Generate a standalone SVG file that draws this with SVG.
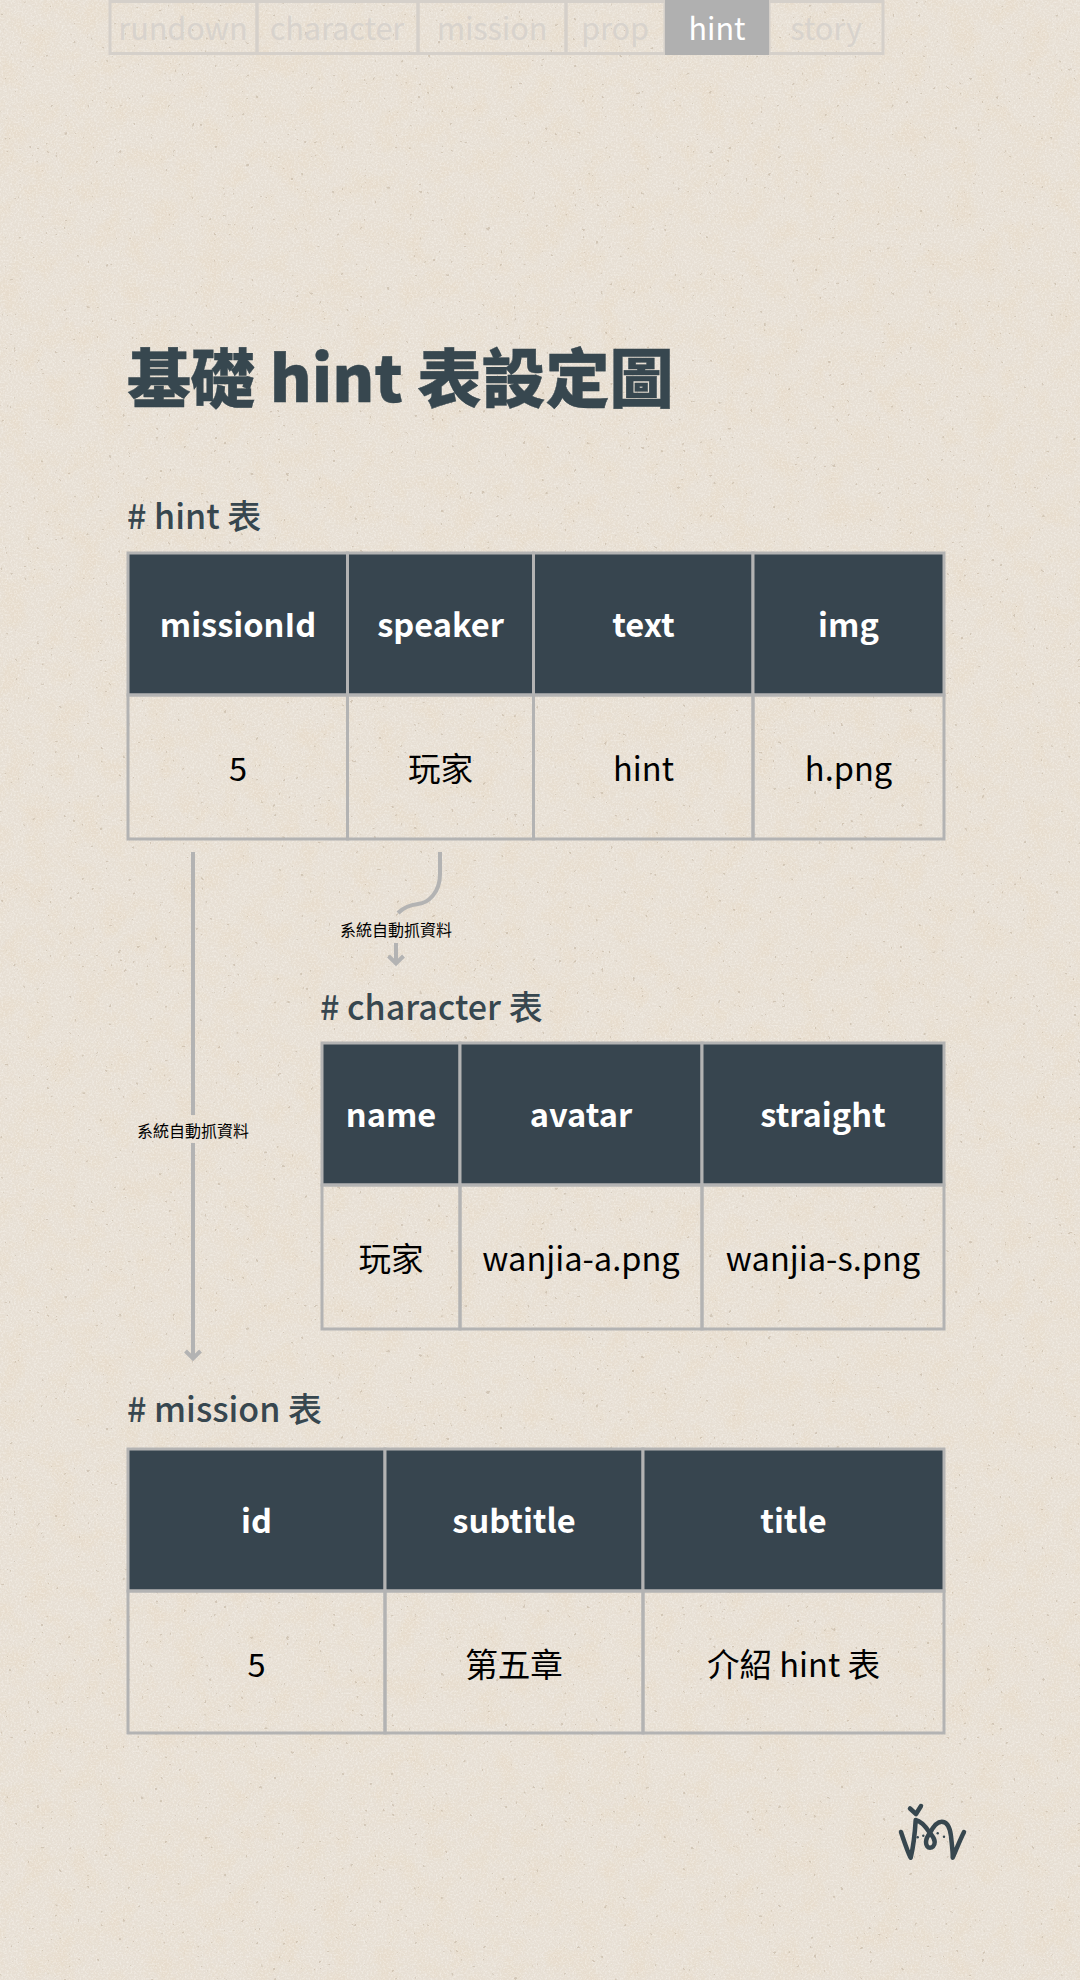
<svg xmlns="http://www.w3.org/2000/svg" width="1080" height="1980" viewBox="0 0 1080 1980">
<style>
text{font-family:"Noto Sans CJK TC","Noto Sans CJK SC",sans-serif}
.nav{font-size:30.500px;fill:#d8d3cd;text-anchor:middle}
.navb{fill:none;stroke:#d5d0ca;stroke-width:3}
.th{fill:#37454f;stroke:#b3b3b3;stroke-width:3}
.td{fill:none;stroke:#b3b3b3;stroke-width:3}
.tht{font-size:32.600px;font-weight:700;fill:#fff;text-anchor:middle}
.tdt{font-size:32.600px;fill:#000;text-anchor:middle}
.h2{font-size:34px;font-weight:500;fill:#37474f}
.lbl{font-size:16px;fill:#000;text-anchor:middle}
.c{fill:none;stroke:#b3b3b3;stroke-width:4}
.logo{fill:none;stroke:#37474f;stroke-width:4.500;stroke-linecap:round;stroke-linejoin:round}
</style>
<defs>
<filter id="mottle" x="0" y="0" width="100%" height="100%">
<feTurbulence type="fractalNoise" baseFrequency="0.04" numOctaves="6" seed="11"/>
<feColorMatrix type="matrix" values="0 0 0 0 0.80  0 0 0 0 0.68  0 0 0 0 0.52  0 0 2.800 0 -1.150"/>
</filter>
<filter id="grain" x="0" y="0" width="100%" height="100%">
<feTurbulence type="fractalNoise" baseFrequency="0.55" numOctaves="3" seed="3"/>
<feColorMatrix type="matrix" values="0 0 0 0 1  0 0 0 0 0.98  0 0 0 0 0.94  0 0 0 2.400 -1.000"/>
</filter>
<filter id="specks" x="0" y="0" width="100%" height="100%">
<feTurbulence type="fractalNoise" baseFrequency="0.22" numOctaves="2" seed="21"/>
<feColorMatrix type="matrix" values="0 0 0 0 0.50  0 0 0 0 0.42  0 0 0 0 0.32  0 0 0 20 -15.200"/>
</filter>
<marker id="ah" markerUnits="userSpaceOnUse" markerWidth="20" markerHeight="20" refX="14" refY="10" orient="auto" viewBox="0 0 20 20"><path d="M6 2.500L13.500 10L6 17.500" fill="none" stroke="#b3b3b3" stroke-width="4"/></marker>
</defs>
<g id="background">
<rect width="1080" height="1980" fill="#e7dfd4"/>
<rect width="1080" height="1980" filter="url(#mottle)" opacity="0.32"/>
<rect width="1080" height="1980" filter="url(#grain)" opacity="0.40"/>
<rect width="1080" height="1980" filter="url(#specks)" opacity="0.50"/>
</g>
<g id="nav">
<g id="nav-rundown"><rect class="navb" x="110" y="1.500" width="147" height="52"/><text class="nav" x="183" y="40">rundown</text></g>
<g id="nav-character"><rect class="navb" x="257" y="1.500" width="161" height="52"/><text class="nav" x="337" y="40">character</text></g>
<g id="nav-mission"><rect class="navb" x="418" y="1.500" width="148" height="52"/><text class="nav" x="492" y="40">mission</text></g>
<g id="nav-prop"><rect class="navb" x="566" y="1.500" width="99" height="52"/><text class="nav" x="615" y="40">prop</text></g>
<g id="nav-story"><rect class="navb" x="769" y="1.500" width="114" height="52"/><text class="nav" x="826" y="40">story</text></g>
<g id="nav-hint"><rect x="665" y="0" width="104" height="55" fill="#b0b0b0"/><text class="nav" style="fill:#fff" x="717" y="40">hint</text></g>
</g>
<text id="title" x="127" y="402" font-size="64" font-weight="900" fill="#37474f" stroke="#37474f" stroke-width="0.400">基礎 hint 表設定圖</text>
<g id="connectors">
<path class="c" d="M193 852V1115M193 1143V1359" marker-end="url(#ah)"/>
<path class="c" d="M440 852V874C440 893 428 903 418 904C410 905 403 908 398 913"/>
<path class="c" d="M396 943V964" marker-end="url(#ah)"/>
<text class="lbl" x="396" y="936">系統自動抓資料</text>
<text class="lbl" x="193" y="1137">系統自動抓資料</text>
</g>
<g id="hint-table">
<text class="h2" x="127" y="529"># hint 表</text>
<rect class="th" x="128" y="553" width="219.500" height="142"/><rect class="th" x="347.500" y="553" width="186" height="142"/><rect class="th" x="533.500" y="553" width="219.500" height="142"/><rect class="th" x="753" y="553" width="191" height="142"/>
<rect class="td" x="128" y="695" width="219.500" height="144"/><rect class="td" x="347.500" y="695" width="186" height="144"/><rect class="td" x="533.500" y="695" width="219.500" height="144"/><rect class="td" x="753" y="695" width="191" height="144"/>
<text class="tht" x="238" y="637">missionId</text><text class="tht" x="440.500" y="637">speaker</text><text class="tht" x="643.500" y="637">text</text><text class="tht" x="848.500" y="637">img</text>
<text class="tdt" x="238" y="781">5</text><text class="tdt" x="440.500" y="781">玩家</text><text class="tdt" x="643.500" y="781">hint</text><text class="tdt" x="848.500" y="781">h.png</text>
</g>
<g id="character-table">
<text class="h2" x="320" y="1020"># character 表</text>
<rect class="th" x="322" y="1043" width="138" height="142"/><rect class="th" x="460" y="1043" width="242" height="142"/><rect class="th" x="702" y="1043" width="242" height="142"/>
<rect class="td" x="322" y="1185" width="138" height="144"/><rect class="td" x="460" y="1185" width="242" height="144"/><rect class="td" x="702" y="1185" width="242" height="144"/>
<text class="tht" x="391" y="1127">name</text><text class="tht" x="581" y="1127">avatar</text><text class="tht" x="823" y="1127">straight</text>
<text class="tdt" x="391" y="1271">玩家</text><text class="tdt" x="581" y="1271">wanjia-a.png</text><text class="tdt" x="823" y="1271">wanjia-s.png</text>
</g>
<g id="mission-table">
<text class="h2" x="127" y="1422"># mission 表</text>
<rect class="th" x="128" y="1449" width="257" height="142"/><rect class="th" x="385" y="1449" width="258" height="142"/><rect class="th" x="643" y="1449" width="301" height="142"/>
<rect class="td" x="128" y="1591" width="257" height="142"/><rect class="td" x="385" y="1591" width="258" height="142"/><rect class="td" x="643" y="1591" width="301" height="142"/>
<text class="tht" x="256.500" y="1533">id</text><text class="tht" x="514" y="1533">subtitle</text><text class="tht" x="793.500" y="1533">title</text>
<text class="tdt" x="256.500" y="1677">5</text><text class="tdt" x="514" y="1677">第五章</text><text class="tdt" x="793.500" y="1677">介紹 hint 表</text>
</g>
<g id="logo">
<path class="logo" d="M910 1808.500L916 1814L921 1806"/>
<path class="logo" d="M901 1832C904 1841 908 1853 910.700 1857.700C913 1848 915 1832 915.700 1820C921 1821 926 1827 930 1833C926 1838 926 1841 926 1842C926 1846 928 1847.700 930 1847.700C932 1847.700 934.700 1846 934.700 1842C934.700 1838 932 1836 930 1833C933 1827 937 1821.700 941.700 1821.700C948 1821.700 950 1828 951 1836C952 1846 953 1853 952.700 1857.700C956 1850 960 1840 964 1832"/>
<g fill="#37474f"><circle cx="917.700" cy="1837.300" r="1.200"/><circle cx="923.300" cy="1835.700" r="1.200"/><circle cx="937.700" cy="1833.300" r="1.200"/><circle cx="944" cy="1836.700" r="1.200"/></g>
</g>
</svg>
